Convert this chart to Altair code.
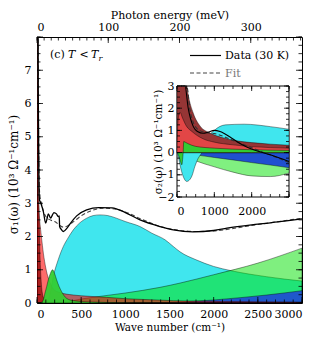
import altair as alt
import pandas as pd

F = "DejaVu Serif"
W, H = 265, 266
MEV = 8.0655  # cm^-1 per meV

# ---------------- main panel: sigma_1 (10^3 Ohm^-1 cm^-1) ----------------
data_x = [0, 8, 15, 22, 28, 35, 50, 72, 98, 115, 128, 155, 175, 192, 220, 240, 252, 256,
          279, 298, 340, 374, 449, 562, 700, 850, 1000, 1166, 1392, 1543, 1766, 2000,
          2151, 2500, 2800, 3000]
data_y = [40, 12, 6, 3.6, 3.1, 3.05, 2.95, 2.75, 2.4, 2.55, 2.68, 2.55, 2.65, 2.72, 2.68,
          2.6, 2.62, 2.3, 2.2, 2.15, 2.25, 2.38, 2.62, 2.8, 2.87, 2.86, 2.72, 2.5, 2.3,
          2.2, 2.14, 2.18, 2.25, 2.37, 2.46, 2.53]
fit_x = [0, 10, 20, 30, 50, 100, 150, 200, 300, 400, 500, 600, 750, 900, 1000, 1200,
         1400, 1600, 1800, 2000, 2500, 3000]
fit_y = [40, 10, 4.5, 3.3, 3.0, 2.6, 2.5, 2.45, 2.28, 2.42, 2.62, 2.76, 2.85, 2.82, 2.74,
         2.5, 2.3, 2.19, 2.15, 2.17, 2.36, 2.55]

drude_n_x = [0, 5, 10, 15, 20, 25, 30, 40, 50, 60, 80, 100, 150, 300, 3000]
drude_n_y = [40, 15, 8, 5, 3.6, 2.5, 1.8, 1.0, 0.55, 0.3, 0.12, 0.06, 0.03, 0.01, 0]
drude_b_x = [0, 15, 30, 50, 72, 100, 128, 150, 185, 250, 411, 600, 789, 1000, 1166, 1543, 2000, 3000]
drude_b_y = [3.2, 3.0, 2.5, 2.0, 1.5, 1.05, 0.75, 0.6, 0.42, 0.32, 0.24, 0.2, 0.17, 0.13, 0.11, 0.07, 0.05, 0.03]
green_x = [0, 50, 72, 90, 110, 128, 150, 177, 200, 222, 250, 279, 336, 411, 600, 1000, 3000]
green_y = [0, 0.02, 0.1, 0.3, 0.5, 0.7, 0.88, 1.0, 0.88, 0.7, 0.5, 0.34, 0.14, 0.07, 0.03, 0.01, 0]
cyan_x = [0, 100, 150, 185, 240, 298, 350, 411, 480, 562, 637, 713, 800, 900, 1000, 1166,
          1300, 1450, 1543, 1619, 1800, 2000, 2200, 2400, 2600, 2800, 3000]
cyan_y = [0, 0.05, 0.3, 0.8, 1.3, 1.7, 1.95, 2.2, 2.4, 2.55, 2.63, 2.65, 2.63, 2.55, 2.45,
          2.3, 2.1, 1.9, 1.7, 1.54, 1.3, 1.1, 0.97, 0.87, 0.79, 0.72, 0.66]
lgreen_x = [0, 250, 500, 1000, 1392, 1620, 2000, 2500, 3000]
lgreen_y = [0, 0, 0.12, 0.3, 0.47, 0.6, 0.85, 1.2, 1.65]
blue_x = [0, 1000, 1400, 1700, 2000, 2300, 2600, 3000]
blue_y = [0, 0, 0.01, 0.04, 0.09, 0.16, 0.24, 0.37]

# ---------------- inset: sigma_2 ----------------
i_data_x = [100, 150, 214, 300, 437, 550, 700, 850, 1000, 1150, 1420, 1600, 1866, 2200, 2500, 3000]
i_data_y = [8, 5, 3.0, 2.0, 1.17, 0.95, 0.87, 0.93, 1.0, 0.95, 0.7, 0.5, 0.25, 0.05, -0.1, -0.4]
i_fit_x = [150, 260, 350, 450, 600, 800, 1000, 1200, 1500, 1800, 2000, 2300, 2600, 3000]
i_fit_y = [5.5, 3.0, 1.9, 1.3, 1.0, 0.9, 0.86, 0.76, 0.55, 0.35, 0.22, 0.02, -0.17, -0.45]
i_dn_x = [0, 60, 100, 200, 260, 300, 437, 616, 900, 1200, 1600, 2000, 2500, 3000]
i_dn_y = [20, 13, 7.7, 3.9, 3.0, 2.6, 1.77, 1.2, 0.87, 0.68, 0.53, 0.45, 0.38, 0.33]
i_db_x = [0, 20, 50, 80, 150, 250, 400, 700, 1000, 1500, 2000, 3000]
i_db_y = [0, 1.2, 1.7, 1.82, 1.55, 1.2, 0.95, 0.62, 0.47, 0.35, 0.27, 0.2]
i_g_x = [0, 50, 100, 130, 150, 165, 180, 220, 300, 500, 1000, 2000, 3000]
i_g_y = [0, -0.15, -0.45, -0.55, -0.3, 0, 0.5, 0.47, 0.4, 0.28, 0.2, 0.13, 0.1]
i_c_x = [0, 50, 100, 150, 200, 260, 350, 400, 480, 570, 650, 700, 800, 1000, 1300, 1800, 2500, 3000]
i_c_y = [0, -0.3, -0.7, -1.0, -1.2, -1.3, -1.2, -1.05, -0.62, -0.25, -0.05, 0.1, 0.6, 1.0, 1.25, 1.28, 1.17, 1.05]
i_lg_x = [0, 200, 500, 1000, 1500, 2000, 2500, 3000]
i_lg_y = [0, -0.15, -0.37, -0.64, -0.88, -1.05, -1.08, -0.92]
i_b_x = [0, 500, 1000, 1500, 2000, 2500, 3000]
i_b_y = [0, -0.1, -0.22, -0.33, -0.45, -0.56, -0.68]

# ---------------- scales & axes ----------------
sx = alt.Scale(domain=[0, 3000], nice=False)
sy = alt.Scale(domain=[0, 8], nice=False)
lab = dict(labelFont=F, labelFontSize=11, labelColor="black", grid=False, ticks=False, domain=False)
tit = dict(titleFont=F, titleFontWeight="normal", titleColor="black")
ax_x = alt.Axis(orient="bottom", values=[0, 500, 1000, 1500, 2000, 2500, 3000], format="d",
                labelPadding=5, title="Wave number (cm⁻¹)", titleFontSize=10.5, titleY=19,
                **lab, **tit)
ax_y = alt.Axis(orient="left", values=[0, 1, 2, 3, 4, 5, 6, 7], labelPadding=6,
                title="σ₁(ω) (10³ Ω⁻¹cm⁻¹)", titleFontSize=12, titleX=-17, titleY=137, **lab, **tit)
X = alt.X("x:Q", scale=sx, axis=ax_x)
Y = alt.Y("y:Q", scale=sy, axis=ax_y)


def df(xs, ys, col="y"):
    return pd.DataFrame({"x": xs, col: ys})


def area(xs, ys, fill, op=1.0, sw=0.5):
    return alt.Chart(df(xs, ys)).mark_area(
        clip=True, fill=fill, fillOpacity=op, stroke="black", strokeWidth=sw,
        strokeOpacity=0.8, interpolate="monotone").encode(x=X, y=Y)


def line(xs, ys, color, sw, dash=None):
    kw = dict(clip=True, color=color, strokeWidth=sw, interpolate="monotone")
    if dash:
        kw["strokeDash"] = dash
    return alt.Chart(df(xs, ys)).mark_line(**kw).encode(x=X, y=Y)


xt = pd.DataFrame({"x": list(range(0, 3001, 100))})
xt_major = pd.DataFrame({"x": list(range(0, 3001, 500))})
yt = pd.DataFrame({"y": [i * 0.25 for i in range(33)]})
yt_major = pd.DataFrame({"y": list(range(0, 9))})
rk = dict(color="black", strokeWidth=0.8)

main_ticks = [
    alt.Chart(xt).mark_rule(**rk).encode(x=X, y=alt.value(H), y2=alt.value(H - 3.5)),
    alt.Chart(xt_major).mark_rule(**rk).encode(x=X, y=alt.value(H), y2=alt.value(H - 6)),
    alt.Chart(yt).mark_rule(**rk).encode(y=Y, x=alt.value(0), x2=alt.value(3.5)),
    alt.Chart(yt_major).mark_rule(**rk).encode(y=Y, x=alt.value(0), x2=alt.value(6)),
    alt.Chart(yt).mark_rule(**rk).encode(y=Y, x=alt.value(W), x2=alt.value(W - 3.5)),
    alt.Chart(yt_major).mark_rule(**rk).encode(y=Y, x=alt.value(W), x2=alt.value(W - 6)),
]

one = pd.DataFrame({"a": [0]})


def txt(s, x, y, size=11, style="normal", color="black", align="left"):
    return alt.Chart(one).mark_text(text=s, font=F, fontSize=size, fontStyle=style, color=color,
                                    align=align, baseline="alphabetic").encode(
        x=alt.value(x), y=alt.value(y))


annot = [
    txt("(c)", 13, 21), txt("T", 31, 21, style="italic"), txt("<", 42.5, 21),
    txt("T", 54, 21, style="italic"), txt("r", 61.5, 24, size=8, style="italic"),
    alt.Chart(one).mark_rule(color="black", strokeWidth=1.2).encode(
        x=alt.value(153), x2=alt.value(184), y=alt.value(18.5)),
    alt.Chart(one).mark_rule(color="#444", strokeWidth=1.2, strokeDash=[4, 2.5]).encode(
        x=alt.value(153), x2=alt.value(184), y=alt.value(36)),
    txt("Data (30 K)", 188, 22), txt("Fit", 188, 39.5, color="#777"),
]

main = alt.layer(
    area(cyan_x, cyan_y, "#40e6ee"),
    area(lgreen_x, lgreen_y, "#00e000", 0.5),
    area(blue_x, blue_y, "#2050d0", 0.95),
    area(drude_b_x, drude_b_y, "#ff0000", 0.58),
    area(drude_n_x, drude_n_y, "#8b0000", 0.7),
    area(green_x, green_y, "#33cc33", 0.95),
    line(fit_x, fit_y, "#444", 1.1, [4, 2.5]),
    line(data_x, data_y, "black", 1.3),
    *main_ticks,
    *annot,
)

# ---------------- top axis (photon energy) ----------------
sm = alt.Scale(domain=[0, 3000 / MEV], nice=False)
ax_m = alt.Axis(orient="top", values=[0, 100, 200, 300], labelPadding=5,
                title="Photon energy (meV)", titleFontSize=11, titleY=-17, **lab, **tit)
mt = pd.DataFrame({"m": list(range(0, 371, 10))})
mt_major = pd.DataFrame({"m": [0, 100, 200, 300]})
M = alt.X("m:Q", scale=sm, axis=ax_m)
top = alt.layer(
    alt.Chart(mt).mark_rule(**rk).encode(x=M, y=alt.value(0), y2=alt.value(3.5)),
    alt.Chart(mt_major).mark_rule(**rk).encode(x=M, y=alt.value(0), y2=alt.value(6)),
)

# ---------------- inset ----------------
IL, IR, IT, IB = 140, 252, 49, 160
isx = alt.Scale(domain=[0, 3000], range=[IL, IR], nice=False)
isy = alt.Scale(domain=[-2, 3], range=[IB, IT], nice=False)
iax_x = alt.Axis(orient="bottom", offset=-(H - IB), values=[0, 1000, 2000], format="d",
                 labelPadding=8, title=None, **lab)
iax_y = alt.Axis(orient="left", offset=-IL, values=[-2, -1, 0, 1, 2, 3], labelPadding=3,
                 title="σ₂(ω) (10³ Ω⁻¹cm⁻¹)", titleFontSize=10.5, titleX=-14, **lab, **tit)
IX = alt.X("x:Q", scale=isx, axis=iax_x)
IY = alt.Y("v:Q", scale=isy, axis=iax_y)


def iarea(xs, ys, fill, op=1.0):
    return alt.Chart(df(xs, ys, "raw")).transform_calculate(v="min(datum.raw, 3)").mark_area(
        fill=fill, fillOpacity=op, stroke="black", strokeWidth=0.5, strokeOpacity=0.8,
        interpolate="monotone").encode(x=IX, y=IY)


def iline(xs, ys, color, sw, dash=None):
    kw = dict(color=color, strokeWidth=sw, interpolate="monotone")
    if dash:
        kw["strokeDash"] = dash
    return alt.Chart(df(xs, ys, "raw")).transform_calculate(v="min(datum.raw, 3)").mark_line(
        **kw).encode(x=IX, y=IY)


ixt = pd.DataFrame({"x": list(range(0, 3001, 250))})
ixt_major = pd.DataFrame({"x": [0, 1000, 2000, 3000]})
iyt = pd.DataFrame({"v": [-2 + i * 0.25 for i in range(21)]})
iyt_major = pd.DataFrame({"v": [-2, -1, 0, 1, 2, 3]})
frame = alt.Chart(one).mark_rect(fill="white", stroke="black", strokeWidth=1).encode(
    x=alt.value(IL), x2=alt.value(IR), y=alt.value(IT), y2=alt.value(IB))

inset = alt.layer(
    frame,
    iarea(i_lg_x, i_lg_y, "#80f080"),
    iarea(i_b_x, i_b_y, "#2050d0"),
    iarea(i_c_x, i_c_y, "#40e6ee"),
    iarea(i_dn_x, i_dn_y, "#953535"),
    iarea(i_db_x, i_db_y, "#e24646"),
    iarea(i_g_x, i_g_y, "#33cc33"),
    iline(i_fit_x, i_fit_y, "#333", 1.1, [4, 2.5]),
    iline(i_data_x, i_data_y, "black", 1.1),
    alt.Chart(ixt).mark_rule(**rk).encode(x=IX, y=alt.value(IB), y2=alt.value(IB - 3)),
    alt.Chart(ixt_major).mark_rule(**rk).encode(x=IX, y=alt.value(IB), y2=alt.value(IB - 5)),
    alt.Chart(ixt).mark_rule(**rk).encode(x=IX, y=alt.value(IT), y2=alt.value(IT + 3)),
    alt.Chart(ixt_major).mark_rule(**rk).encode(x=IX, y=alt.value(IT), y2=alt.value(IT + 5)),
    alt.Chart(iyt).mark_rule(**rk).encode(y=IY, x=alt.value(IL), x2=alt.value(IL + 3)),
    alt.Chart(iyt_major).mark_rule(**rk).encode(y=IY, x=alt.value(IL), x2=alt.value(IL + 5)),
    alt.Chart(iyt).mark_rule(**rk).encode(y=IY, x=alt.value(IR), x2=alt.value(IR - 3)),
    alt.Chart(iyt_major).mark_rule(**rk).encode(y=IY, x=alt.value(IR), x2=alt.value(IR - 5)),
)

chart = alt.layer(main, top, inset).resolve_scale(
    x="independent", y="independent"
).properties(
    width=W, height=H,
    autosize=alt.AutoSizeParams(type="none"),
    padding={"left": 29, "top": 29, "right": 9, "bottom": 31},
    background="white",
).configure_view(stroke="black", strokeWidth=1)

chart.save("out.html", embed_options={"renderer": "svg", "actions": False})
